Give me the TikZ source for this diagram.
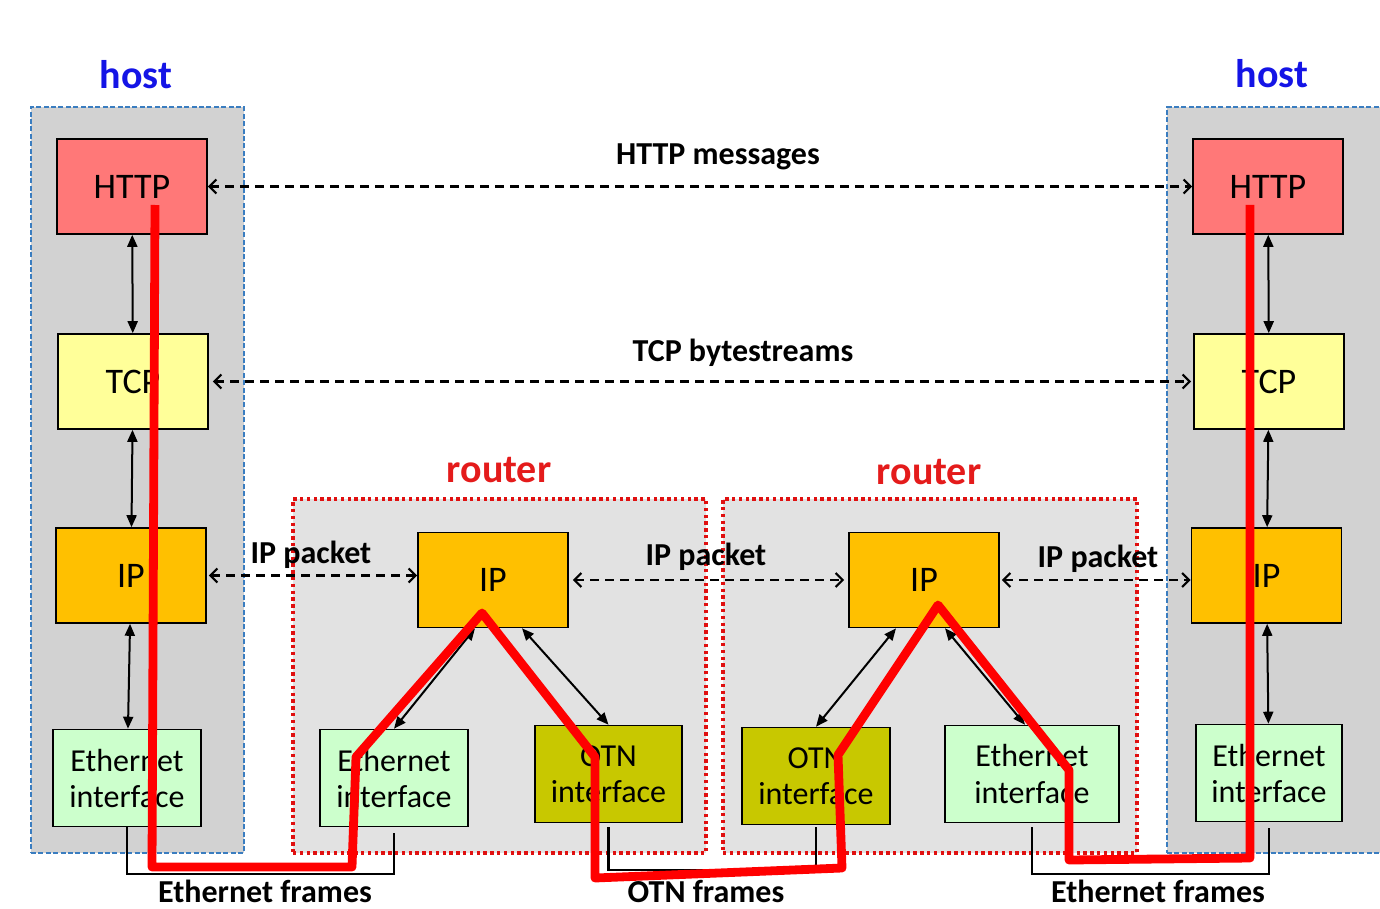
\documentclass[tikz,border=0pt]{standalone}
\usepackage{fontspec}
\setmainfont{Carlito}
\usetikzlibrary{arrows.meta}

\begin{document}
\begin{tikzpicture}[x=.5pt, y=-.5pt,
  layer/.style = {draw, line width=.8pt, minimum width=75pt, minimum height=47.5pt, inner sep=0pt, align=center, font=\fontsize{18}{20}\selectfont},
  iface/.style = {layer, minimum height=48.5pt, font=\fontsize{16}{18}\selectfont},
  hostbox/.style = {draw=blueHost, fill=greyHost, line width=.8pt, dash pattern=on 2.5pt off 1.2pt, inner sep=0pt},
  routerbox/.style = {draw=redDot, fill=greyRouter, line width=1.8pt, dash pattern=on 1.7pt off 1.7pt, inner sep=0pt},
  updown/.style = {line width=1pt, {Triangle[length=6pt,width=5pt]}-{Triangle[length=6pt,width=5pt]}},
  peer/.style = {line width=1.1pt, dash pattern=on 4.5pt off 3pt, {Straight Barb[length=3.5pt,width=7pt]}-{Straight Barb[length=3.5pt,width=7pt]}},
  link/.style = {line width=1.3pt},
  tag/.style = {font=\fontsize{16}{18}\selectfont\bfseries},
  title/.style = {font=\fontsize{20}{22}\selectfont\bfseries}
]

\definecolor{httpRED}{HTML}{ff7878}
\definecolor{tcpYEL}{HTML}{ffff99}
\definecolor{ipORA}{HTML}{ffc000}
\definecolor{ethGRN}{HTML}{ccffcc}
\definecolor{otnOLI}{HTML}{c8c800}
\definecolor{greyHost}{HTML}{d2d2d2}
\definecolor{greyRouter}{HTML}{e2e2e2}
\definecolor{blueHost}{HTML}{3a7dc0}
\definecolor{redDot}{HTML}{e01010}
\definecolor{blueTXT}{HTML}{1414e6}
\definecolor{redTXT}{HTML}{e41b1b}

\clip (0,0) rectangle (1380,909);

% containers
\node[hostbox, minimum width=106.5pt, minimum height=373pt] (hostl) at (137.5,480) {};
\node[hostbox, minimum width=112.5pt, minimum height=373pt] (hostr) at (1279.5,480) {};
\node[routerbox, minimum width=206.5pt, minimum height=177pt] (rtra) at (499.5,676) {};
\node[routerbox, minimum width=207pt, minimum height=177pt] (rtrb) at (930,676) {};

\node[title, text=blueTXT] at (136,75) {host};
\node[title, text=blueTXT] at (1272,74) {host};
\node[title, text=redTXT] at (499,470) {router};
\node[title, text=redTXT] at (929,472) {router};

% left host
\node[layer, fill=httpRED] (httpl) at (132,186.5) {HTTP};
\node[layer, fill=tcpYEL] (tcpl) at (133,381.5) {TCP};
\node[layer, fill=ipORA] (ipl) at (131,575.5) {IP};
\node[iface, minimum width=74pt, fill=ethGRN] (ethl) at (127,778) {Ethernet\\interface};

% right host
\node[layer, fill=httpRED] (httpr) at (1268,186.5) {HTTP};
\node[layer, fill=tcpYEL] (tcpr) at (1269,381.5) {TCP};
\node[layer, fill=ipORA] (ipr) at (1266.5,575.5) {IP};
\node[iface, minimum width=73pt, fill=ethGRN] (ethr) at (1269,773) {Ethernet\\interface};

% routers
\node[layer, fill=ipORA] (ipa) at (493,580) {IP};
\node[iface, minimum width=74pt, fill=ethGRN] (etha) at (394,778) {Ethernet\\interface};
\node[iface, minimum width=73.5pt, fill=otnOLI] (otna) at (608.5,774) {OTN\\interface};
\node[layer, fill=ipORA] (ipb) at (924,580) {IP};
\node[iface, minimum width=74pt, fill=otnOLI] (otnb) at (816,776) {OTN\\interface};
\node[iface, minimum width=87pt, fill=ethGRN] (ethb) at (1032,774) {Ethernet\\interface};

% inside the stacks
\foreach \a/\b in {httpl/tcpl, tcpl/ipl, ipl/ethl, httpr/tcpr, tcpr/ipr, ipr/ethr}
  \draw[updown] (\a) -- (\b);

\draw[updown] ([xshift=-9pt]ipa.south) -- (etha.north);
\draw[updown] ([xshift=14.5pt]ipa.south) -- (otna.north);
\draw[updown] ([xshift=-14pt]ipb.south) -- (otnb.north);
\draw[updown] ([xshift=10.5pt]ipb.south) -- ([xshift=-3.5pt]ethb.north);

% peer to peer
\draw[peer] (httpl) -- (httpr);
\draw[peer] ([xshift=2pt]tcpl.east) -- ([xshift=-1pt]tcpr.west);
\draw[peer] ([xshift=1pt]ipl.east) -- (ipl.east -| ipa.west);
\draw[peer] ([xshift=2pt]ipa.east) -- ([xshift=-2pt]ipb.west);
\draw[peer] ([xshift=1pt]ipb.east) -- (ipb.east -| ipr.west);

\node[tag] at (718,157) {HTTP messages};
\node[tag] at (743,353) {TCP bytestreams};
\node[tag] at (311,555) {IP packet};
\node[tag] at (706,557) {IP packet};
\node[tag] at (1098,559) {IP packet};

% links
\coordinate (lnk) at (0,874);
\coordinate (lnko) at (0,870);
\draw[link] (ethl.south) -- (ethl.south |- lnk) -| ([yshift=-3pt]etha.south);
\draw[link] ([yshift=-2pt]otna.south) -- (otna.south |- lnko) -| ([yshift=-1pt]otnb.south);
\draw[link] ([yshift=-2pt]ethb.south) -- (ethb.south |- lnk) -| ([yshift=-3pt]ethr.south);

\node[tag] at (265,891) {Ethernet frames};
\node[tag] at (706,891) {OTN frames};
\node[tag] at (1158,891) {Ethernet frames};

% path of the data
\draw[red, line width=4.4pt, line join=round]
  (155,205) -- (152,867) -- (352,867) -- (356,757) -- (482,613) -- (595,757)
  -- (595,878) -- (842,868) -- (838,755) -- (938,605) -- (1069,770)
  -- (1069,860) -- (1250,858) -- (1250,205);

\end{tikzpicture}
\end{document}
